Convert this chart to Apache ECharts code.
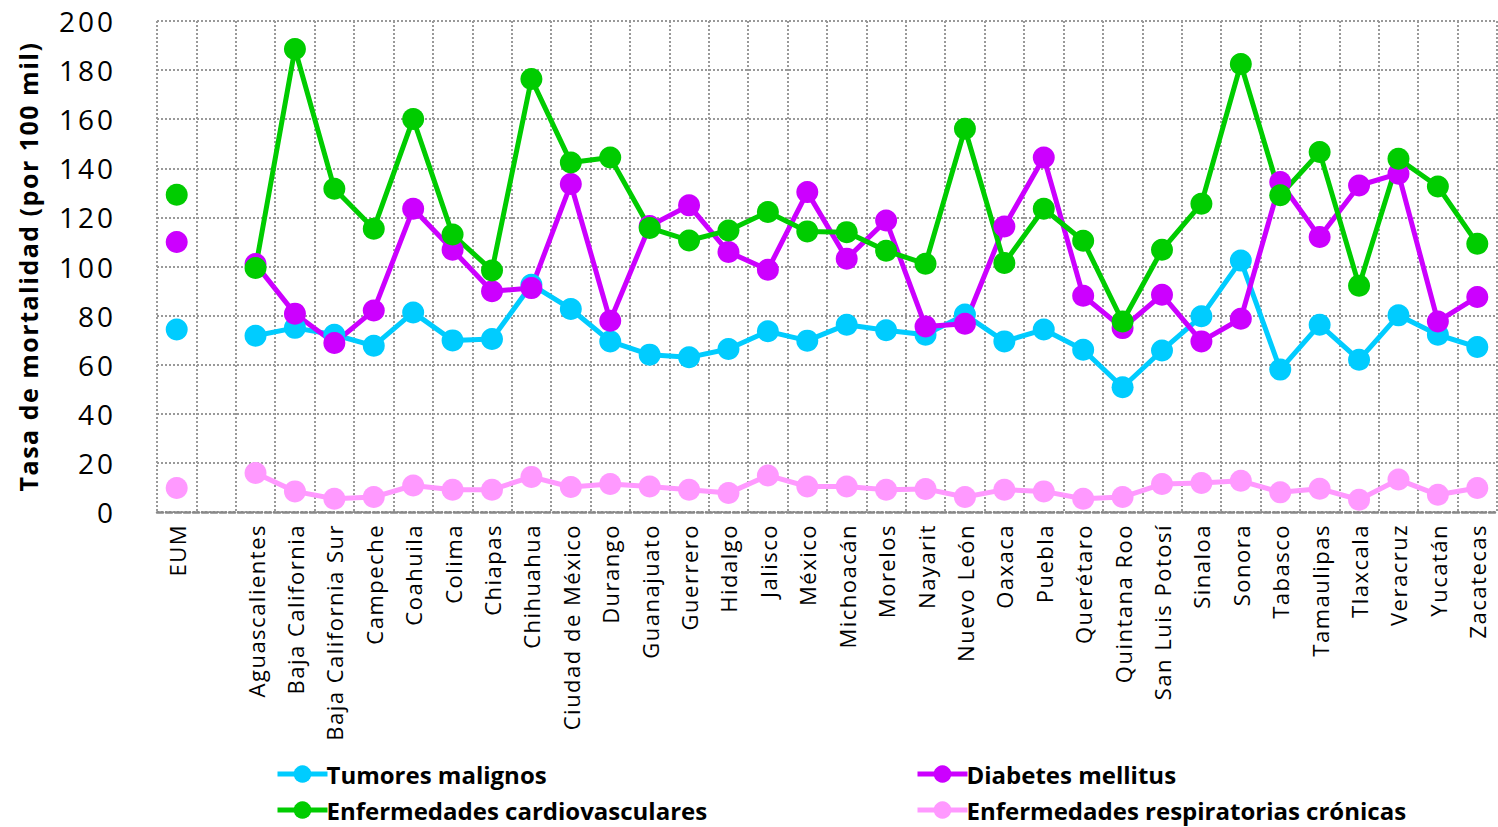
<!DOCTYPE html>
<html>
<head>
<meta charset="utf-8">
<script src="https://cdn.jsdelivr.net/npm/echarts@6/dist/echarts.min.js"></script>
<style>
html,body{margin:0;padding:0;background:#fff;}
#chart{width:1498px;height:827px;}
#chart text[style*="22px"]{letter-spacing:1.5px;}
#chart text[style*="28px"]{letter-spacing:3px;}
#chart text[style*="25px"]{letter-spacing:1.5px;}
</style>
</head>
<body>
<div id="chart"></div>
<script>
const categories = ['EUM','','Aguascalientes','Baja California','Baja California Sur','Campeche','Coahuila','Colima','Chiapas','Chihuahua','Ciudad de México','Durango','Guanajuato','Guerrero','Hidalgo','Jalisco','México','Michoacán','Morelos','Nayarit','Nuevo León','Oaxaca','Puebla','Querétaro','Quintana Roo','San Luis Potosí','Sinaloa','Sonora','Tabasco','Tamaulipas','Tlaxcala','Veracruz','Yucatán','Zacatecas'];

const tumores = [74.3,null,71.8,75.0,72.2,67.7,81.3,69.9,70.5,92.6,82.7,69.5,64.1,63.0,66.4,73.6,69.8,76.3,74.0,72.2,80.4,69.5,74.3,66.1,50.8,65.8,79.7,102.4,58.0,76.3,62.0,80.1,72.2,67.2];
const diabetes = [110.0,null,101.0,80.8,68.8,82.1,123.5,106.8,89.9,91.2,133.6,77.9,116.5,124.9,105.9,98.7,130.3,103.2,118.7,75.6,76.7,116.3,144.4,88.1,74.9,88.5,69.5,78.7,134.4,112.0,133.0,137.8,77.6,87.6];
const cardio = [129.2,null,99.4,188.6,131.7,115.4,160.1,113.0,98.4,176.4,142.4,144.4,115.7,110.6,114.7,122.2,114.3,114.0,106.4,101.1,156.1,101.4,123.5,110.5,77.6,106.8,125.6,182.5,129.0,146.6,92.2,143.9,132.6,109.3];
const respiratorias = [9.8,null,15.9,8.4,5.4,6.1,10.8,9.1,9.1,14.3,10.2,11.4,10.4,9.1,7.7,14.9,10.4,10.4,9.1,9.4,6.1,9.1,8.4,5.4,6.1,11.4,11.8,12.7,8.0,9.5,5.0,13.2,7.0,9.8];

const yTicks = [0,20,40,60,80,100,120,140,160,180,200];

const seriesNames = ['Tumores malignos','Diabetes mellitus','Enfermedades cardiovasculares','Enfermedades respiratorias crónicas'];
const seriesColors = ['#00CCFF','#CC00FF','#00CC00','#FF99FF'];
const seriesData = [tumores, diabetes, cardio, respiratorias];

const chart = echarts.init(document.getElementById('chart'), null, {renderer:'svg'});

const FONT = '"Open Sans", "DejaVu Sans", sans-serif';
const legendPos = [[275,762],[915,762],[275,798],[915,798]];

const option = {
  backgroundColor:'#ffffff',
  animation:false,
  grid:{left:157, right:1, top:21, bottom:315},
  legend: seriesNames.map((n,i)=>({
    data:[n],
    left:legendPos[i][0], top:legendPos[i][1],
    padding:0,
    itemWidth:50, itemHeight:22, itemGap:0,
    lineStyle:{width:5},
    textStyle:{fontFamily:FONT, fontSize:24, fontWeight:'bold', color:'#000', padding:[0,0,0,-6]},
    selectedMode:false
  })),
  xAxis:{
    type:'category',
    data:categories,
    boundaryGap:true,
    axisLine:{show:true, lineStyle:{color:'#888', width:2.5, type:[6,3]}},
    axisTick:{show:false},
    axisLabel:{interval:0, rotate:90, margin:12, fontFamily:FONT, fontSize:22, color:'#000'},
    splitLine:{show:true, interval:0, lineStyle:{color:'#999', width:2, type:[2,2]}}
  },
  yAxis:{
    type:'value',
    min:0, max:200, interval:20,
    name:'Tasa de mortalidad (por 100 mil)',
    nameLocation:'middle',
    nameGap:117,
    nameTextStyle:{fontFamily:FONT, fontSize:25, fontWeight:'bold', color:'#000'},
    axisLine:{show:false},
    axisTick:{show:false},
    axisLabel:{margin:41, fontFamily:FONT, fontSize:28, color:'#000',
      formatter:(v)=> yTicks.includes(v) ? String(v) : ''},
    splitLine:{show:true, lineStyle:{color:'#999', width:2, type:[2,2]}}
  },
  series: seriesNames.map((n,i)=>({
    name:n,
    type:'line',
    data:seriesData[i],
    connectNulls:false,
    symbol:'circle',
    symbolSize:22,
    showAllSymbol:true,
    lineStyle:{color:seriesColors[i], width:5},
    itemStyle:{color:seriesColors[i]},
    emphasis:{disabled:true}
  }))
};
chart.setOption(option);
</script>
</body>
</html>
